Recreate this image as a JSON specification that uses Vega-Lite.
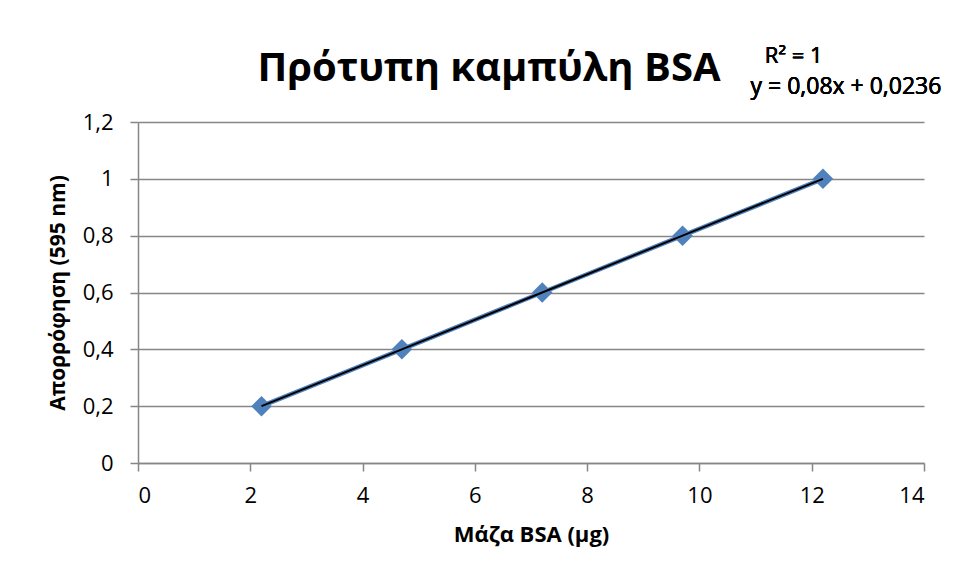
{
  "$schema": "https://vega.github.io/schema/vega-lite/v6.json",
  "width": 786,
  "height": 341,
  "autosize": "none",
  "padding": {"left": 138, "top": 122, "right": 32, "bottom": 117},
  "background": "white",
  "config": {
    "view": {"stroke": null},
    "font": "Open Sans",
    "axis": {
      "labelFont": "Open Sans",
      "titleFont": "Open Sans",
      "labelFontSize": 22,
      "labelColor": "black",
      "titleFontSize": 21,
      "titleFontWeight": "bold",
      "titleColor": "black",
      "domainColor": "#868686",
      "domainWidth": 1.5,
      "tickColor": "#868686",
      "tickWidth": 1.5,
      "tickSize": 8,
      "gridColor": "#868686",
      "gridWidth": 1.5
    }
  },
  "title": {
    "text": "Πρότυπη καμπύλη BSA",
    "font": "Open Sans",
    "fontSize": 40,
    "fontWeight": "bold",
    "color": "black",
    "anchor": "middle",
    "dx": -42,
    "offset": -44
  },
  "data": {
    "values": [
      {"mass": 2.2, "abs": 0.2},
      {"mass": 4.7, "abs": 0.4},
      {"mass": 7.2, "abs": 0.6},
      {"mass": 9.7, "abs": 0.8},
      {"mass": 12.2, "abs": 1.0}
    ]
  },
  "encoding": {
    "x": {
      "field": "mass",
      "type": "quantitative",
      "scale": {"domain": [0, 14], "nice": false, "zero": true},
      "axis": {
        "values": [0, 2, 4, 6, 8, 10, 12, 14],
        "grid": false,
        "title": "Μάζα BSA (μg)",
        "titleFontSize": 22,
        "titlePadding": 18,
        "labelPadding": 14,
        "labelExpr": "replace(format(datum.value, '~g'), '.', ',')"
      }
    },
    "y": {
      "field": "abs",
      "type": "quantitative",
      "scale": {"domain": [0, 1.2], "nice": false},
      "axis": {
        "values": [0, 0.2, 0.4, 0.6, 0.8, 1, 1.2],
        "grid": true,
        "title": "Απορρόφηση (595 nm)",
        "titlePadding": 14,
        "labelPadding": 17,
        "labelExpr": "replace(format(datum.value, '.1~f'), '.', ',')"
      }
    }
  },
  "layer": [
    {"mark": {"type": "line", "color": "#4F81BD", "strokeWidth": 4.5}},
    {"mark": {"type": "point", "shape": "diamond", "filled": true, "color": "#4F81BD", "opacity": 1, "size": 420}},
    {"mark": {"type": "line", "color": "black", "strokeWidth": 2}},
    {
      "mark": {"type": "text", "text": "R² = 1", "font": "Open Sans", "fontSize": 22, "fontWeight": "normal", "color": "black", "clip": false},
      "encoding": {"x": {"datum": 11.68, "type": "quantitative"}, "y": {"datum": 1.432, "type": "quantitative"}}
    },
    {
      "mark": {"type": "text", "text": "y = 0,08x + 0,0236", "font": "Open Sans", "fontSize": 23, "fontWeight": "normal", "color": "black", "clip": false},
      "encoding": {"x": {"datum": 12.61, "type": "quantitative"}, "y": {"datum": 1.322, "type": "quantitative"}}
    }
  ]
}
